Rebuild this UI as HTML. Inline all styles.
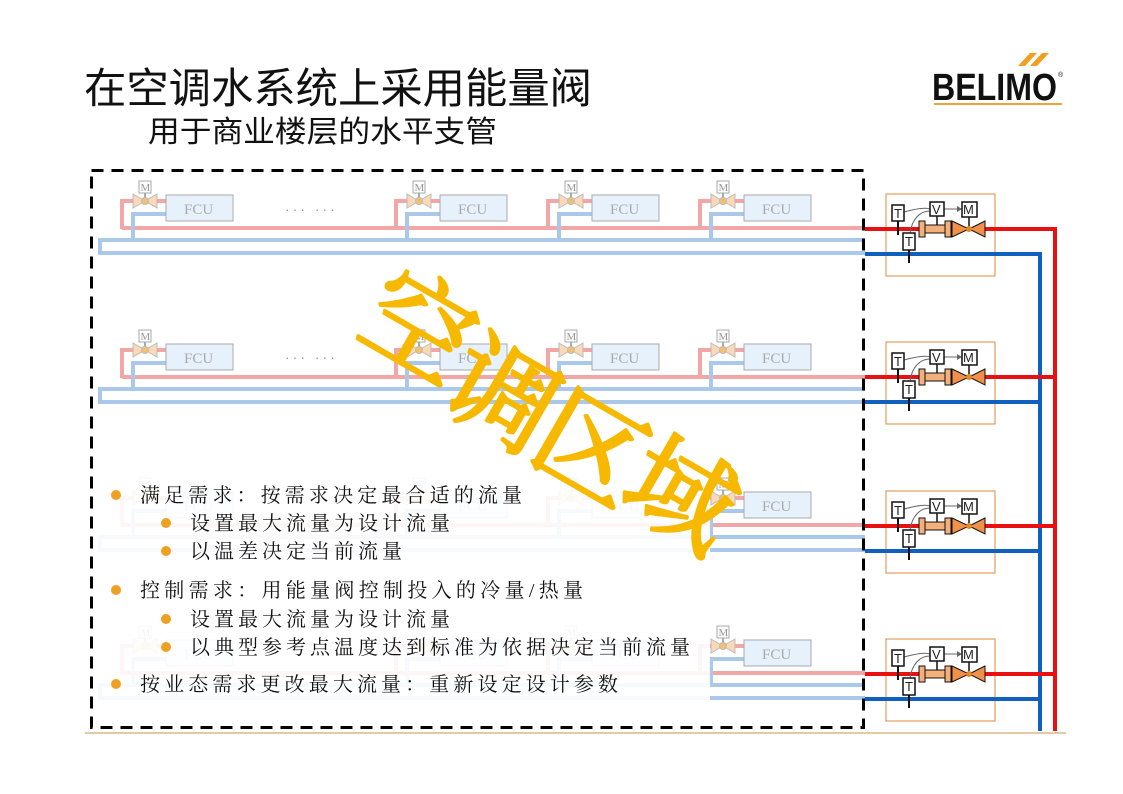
<!DOCTYPE html>
<html><head><meta charset="utf-8"><style>
html,body{margin:0;padding:0;background:#fff;width:1123px;height:794px;overflow:hidden}
svg{display:block}
.t{font-family:"Liberation Sans","Noto Sans CJK SC",sans-serif}
.b{font-family:"Liberation Serif","Noto Serif CJK SC",serif;font-size:20px;fill:#111}
.fcu{font-family:"Liberation Serif",serif;font-size:15px;fill:#aaa}
.sm{font-family:"Liberation Sans",sans-serif;font-size:13px;fill:#222}
</style></head><body>
<svg width="1123" height="794" viewBox="0 0 1123 794" xmlns="http://www.w3.org/2000/svg">
<defs>
<g id="valve">
  <line x1="0" y1="-8" x2="0" y2="0" stroke="#aaa" stroke-width="2"/>
  <rect x="-6" y="-20" width="12" height="12" fill="#fff" stroke="#aaa"/>
  <text x="-4.5" y="-10" font-family="Liberation Serif,serif" font-size="11" fill="#999">M</text>
  <polygon points="-12,-7 0,0 -12,7" fill="#fbd9b8" stroke="#bbb"/>
  <polygon points="12,-7 0,0 12,7" fill="#fbd9b8" stroke="#bbb"/>
  <circle cx="0" cy="0" r="3.5" fill="#f2c070" stroke="#bbb"/>
</g>
<g id="grp">
  <polyline points="23,0 0,0 0,28" fill="none" stroke="#f3a6a6" stroke-width="4"/>
  <line x1="23" y1="0" x2="44" y2="0" stroke="#f3a6a6" stroke-width="4"/>
  <polyline points="44,13 11,13 11,40" fill="none" stroke="#a9c8ea" stroke-width="4"/>
  <use href="#valve" x="23" y="0"/>
  <rect x="44" y="-6" width="67" height="26" fill="#e6f1fc" stroke="#aaa"/>
</g>
<g id="unit">
  <rect x="886" y="-35" width="109" height="82" fill="#fff" stroke="#e08a3a"/>
  <line x1="865" y1="0" x2="1055" y2="0" stroke="#e81010" stroke-width="4"/>
  <line x1="865" y1="25" x2="1040" y2="25" stroke="#1060c0" stroke-width="4"/>
  <path d="M904,-17 C915,-20 925,-22 930,-20" fill="none" stroke="#666"/>
  <path d="M910,4 C912,-10 920,-18 930,-18" fill="none" stroke="#666"/>
  <line x1="944" y1="-20" x2="962" y2="-20" stroke="#666"/>
  <polygon points="962,-20 957,-23 957,-17" fill="#666"/>
  <line x1="898" y1="-10" x2="898" y2="6" stroke="#111" stroke-width="2"/>
  <rect x="892" y="-24" width="12" height="16" fill="#fff" stroke="#111" stroke-width="1.5"/>
  <text x="894" y="-11" class="sm">T</text>
  <line x1="909" y1="20" x2="909" y2="34" stroke="#111" stroke-width="2"/>
  <rect x="903" y="4" width="12" height="17" fill="#fff" stroke="#111" stroke-width="1.5"/>
  <text x="905" y="17" class="sm">T</text>
  <line x1="937" y1="-13" x2="937" y2="-4" stroke="#111" stroke-width="1.5"/>
  <rect x="930" y="-27" width="14" height="14" fill="#fff" stroke="#111" stroke-width="1.5"/>
  <text x="932" y="-15" class="sm">V</text>
  <line x1="969" y1="-12" x2="969" y2="-2" stroke="#111" stroke-width="1.5"/>
  <rect x="962" y="-27" width="15" height="15" fill="#fff" stroke="#111" stroke-width="1.5"/>
  <text x="963" y="-15" class="sm">M</text>
  <rect x="919" y="-8" width="6" height="16" fill="#f3b07a" stroke="#111"/>
  <path d="M925,-4 L945,-4 L945,4 L925,4 Z" fill="#f3b07a" stroke="#111"/>
  <rect x="945" y="-8" width="6" height="16" fill="#f3b07a" stroke="#111"/>
  <polygon points="952,-8 969,0 952,8" fill="#f0904a" stroke="#111"/>
  <polygon points="985,-8 969,0 985,8" fill="#f0904a" stroke="#111"/>
  <circle cx="969" cy="0" r="3" fill="#e08a20"/>
</g>
<g id="row">
  <line x1="122" y1="28" x2="865" y2="28" stroke="#f3a6a6" stroke-width="4"/>
  <polyline points="865,40 100,40 100,53 865,53" fill="none" stroke="#a9c8ea" stroke-width="4"/>
  <use href="#grp" x="122" y="1"/>
  <use href="#grp" x="396" y="1"/>
  <use href="#grp" x="548" y="1"/>
  <use href="#grp" x="700" y="1"/>
</g>
</defs>

<text x="84" y="103" class="t" font-size="42" fill="#111" textLength="508" lengthAdjust="spacingAndGlyphs">在空调水系统上采用能量阀</text>
<text x="148" y="142" class="t" font-size="30" fill="#111" textLength="349" lengthAdjust="spacingAndGlyphs">用于商业楼层的水平支管</text>

<polygon points="1018,66 1030,53 1037,53 1025,66" fill="#f0a020"/>
<polygon points="1030,66 1042,53 1049,53 1037,66" fill="#f0a020"/>
<text x="932" y="100" font-family="Liberation Sans,sans-serif" font-weight="bold" font-size="38" fill="#111" textLength="125" lengthAdjust="spacingAndGlyphs">BELIMO</text>
<text x="1058" y="77" font-family="Liberation Sans,sans-serif" font-size="7" fill="#111">®</text>
<line x1="934" y1="104" x2="1062" y2="104" stroke="#f0a040" stroke-width="2"/>

<use href="#row" x="0" y="200"/>
<use href="#row" x="0" y="349"/>
<use href="#row" x="0" y="497"/>
<use href="#row" x="0" y="645"/>
<g class="fcu">
<text x="184" y="214">FCU</text><text x="458" y="214">FCU</text><text x="610" y="214">FCU</text><text x="762" y="214">FCU</text>
<text x="184" y="363">FCU</text><text x="458" y="363">FCU</text><text x="610" y="363">FCU</text><text x="762" y="363">FCU</text>
<text x="184" y="511">FCU</text><text x="458" y="511">FCU</text><text x="610" y="511">FCU</text><text x="762" y="511">FCU</text>
<text x="184" y="659">FCU</text><text x="458" y="659">FCU</text><text x="610" y="659">FCU</text><text x="762" y="659">FCU</text>
</g>
<text x="285" y="214" font-family="Liberation Sans,sans-serif" font-size="14" fill="#999" letter-spacing="3">··· ···</text>
<text x="285" y="362" font-family="Liberation Sans,sans-serif" font-size="14" fill="#999" letter-spacing="3">··· ···</text>

<rect x="95" y="470" width="615" height="240" fill="#fff" opacity="0.9"/>

<line x1="1055" y1="227" x2="1055" y2="731" stroke="#e81010" stroke-width="4"/>
<line x1="1040" y1="252" x2="1040" y2="731" stroke="#1060c0" stroke-width="4"/>
<use href="#unit" x="0" y="229"/>
<use href="#unit" x="0" y="377"/>
<use href="#unit" x="0" y="526"/>
<use href="#unit" x="0" y="674"/>

<rect x="91.5" y="170.5" width="772" height="557" fill="none" stroke="#000" stroke-width="3" stroke-dasharray="12,8"/>

<g font-family="Noto Serif CJK SC,serif" font-size="108" fill="#f7b800" stroke="#f7b800" stroke-width="3" stroke-linejoin="round">
<text transform="translate(400,360) rotate(30)" text-anchor="middle">空</text>
<text transform="translate(483,428) rotate(30)" text-anchor="middle">调</text>
<text transform="translate(572,482) rotate(30)" text-anchor="middle">区</text>
<text transform="translate(662,528) rotate(30)" text-anchor="middle">域</text>
</g>

<g fill="#f0a020">
<circle cx="116" cy="495" r="5"/><circle cx="166" cy="523" r="5"/><circle cx="166" cy="551" r="5"/>
<circle cx="116" cy="590" r="5"/><circle cx="166" cy="619" r="5"/><circle cx="166" cy="647" r="5"/>
<circle cx="116" cy="684" r="5"/>
</g>
<text x="140" y="502" class="b" textLength="382" lengthAdjust="spacing">满足需求：按需求决定最合适的流量</text>
<text x="190" y="530" class="b" textLength="260" lengthAdjust="spacing">设置最大流量为设计流量</text>
<text x="190" y="558" class="b" textLength="212" lengthAdjust="spacing">以温差决定当前流量</text>
<text x="140" y="597" class="b" textLength="443" lengthAdjust="spacing">控制需求：用能量阀控制投入的冷量/热量</text>
<text x="190" y="626" class="b" textLength="260" lengthAdjust="spacing">设置最大流量为设计流量</text>
<text x="190" y="654" class="b" textLength="500" lengthAdjust="spacing">以典型参考点温度达到标准为依据决定当前流量</text>
<text x="140" y="691" class="b" textLength="478" lengthAdjust="spacing">按业态需求更改最大流量：重新设定设计参数</text>

<line x1="85" y1="733" x2="1066" y2="733" stroke="#d9b98a" stroke-width="1.5"/>
</svg>
</body></html>
